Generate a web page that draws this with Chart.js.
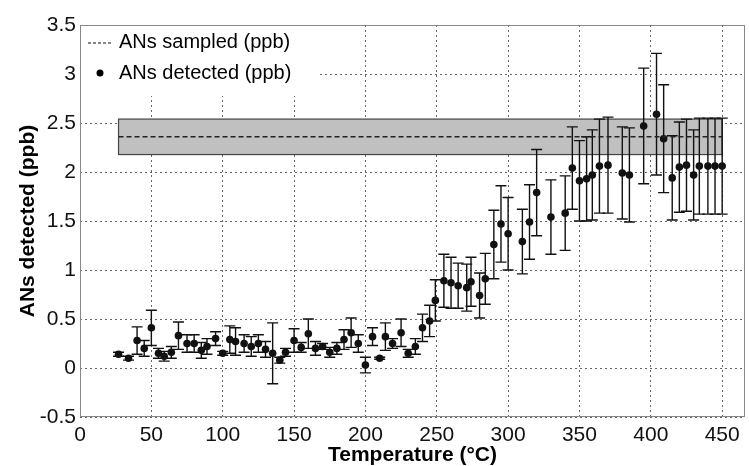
<!DOCTYPE html>
<html>
<head>
<meta charset="utf-8">
<script src="https://cdn.jsdelivr.net/npm/chart.js@4/dist/chart.umd.min.js"></script>
<style>
  body { margin: 0; background: #fff; }
  canvas { display: block; }
</style>
</head>
<body>
<canvas id="myChart" width="749" height="466"></canvas>
<script>
// temperature (°C), detected ANs (ppb), error bar half-length (ppb)
let temps = [27, 34, 40, 45, 50, 55, 59, 64, 69, 75, 80, 85, 89, 95, 100, 105, 109, 115, 120, 125,
    130, 135, 140, 144, 150, 155, 160, 165, 170, 175, 180, 185, 190, 195, 200, 205, 210, 214, 219, 225,
    230, 235, 240, 245, 249, 255, 260, 265, 271, 274, 280, 284, 290, 295, 300, 310, 315, 320, 330, 340,
    345, 350, 355, 359, 364, 370, 380, 385, 395, 404, 409, 415, 420, 425, 430, 434, 440, 445, 450]
let detected = [0.14, 0.10, 0.28, 0.20, 0.41, 0.15, 0.12, 0.16, 0.33, 0.25, 0.25, 0.18, 0.22, 0.30, 0.15, 0.29, 0.27, 0.25, 0.22, 0.25,
    0.19, 0.15, 0.08, 0.16, 0.28, 0.21, 0.35, 0.20, 0.22, 0.16, 0.20, 0.29, 0.36, 0.25, 0.03, 0.32, 0.10, 0.32, 0.25, 0.36,
    0.15, 0.22, 0.41, 0.48, 0.69, 0.89, 0.87, 0.84, 0.82, 0.88, 0.74, 0.91, 1.26, 1.47, 1.37, 1.29, 1.49, 1.79, 1.54, 1.58,
    2.04, 1.91, 1.93, 1.97, 2.06, 2.07, 1.99, 1.97, 2.47, 2.59, 2.34, 1.94, 2.05, 2.07, 1.97, 2.06, 2.06, 2.06, 2.06]
let errors = [0.02, 0.02, 0.14, 0.08, 0.18, 0.05, 0.05, 0.06, 0.14, 0.09, 0.09, 0.08, 0.08, 0.07, 0.02, 0.14, 0.14, 0.09, 0.10, 0.09,
    0.08, 0.31, 0.03, 0.04, 0.12, 0.05, 0.15, 0.07, 0.03, 0.05, 0.06, 0.10, 0.15, 0.09, 0.08, 0.09, 0.01, 0.14, 0.05, 0.14,
    0.04, 0.08, 0.14, 0.16, 0.21, 0.27, 0.26, 0.23, 0.24, 0.25, 0.23, 0.26, 0.35, 0.39, 0.37, 0.33, 0.38, 0.44, 0.38, 0.38,
    0.42, 0.41, 0.43, 0.46, 0.48, 0.49, 0.47, 0.48, 0.59, 0.62, 0.55, 0.43, 0.46, 0.47, 0.46, 0.49, 0.49, 0.49, 0.49]

// sampled ANs: mean and band (ppb), over the temperature range
let sampledRange = [27, 450]
let sampledMean = 2.36
let sampledLow = 2.178
let sampledHigh = 2.54

let xTicks = [0, 50, 100, 150, 200, 250, 300, 350, 400, 450]

let points = []
for (let i = 0; i < temps.length; i++) {
    points.push({ x: temps[i], y: detected[i] })
}

const FONT = '"Liberation Sans", Arial, sans-serif'

const bandAndBars = {
    id: 'bandAndBars',
    beforeDatasetsDraw(chart) {
        const ctx = chart.ctx
        const xs = chart.scales.x
        const ys = chart.scales.y
        const area = chart.chartArea

        // legend backdrop
        ctx.save()
        ctx.fillStyle = '#fff'
        ctx.fillRect(area.left + 1, area.top + 1, 236, 70)

        // sampled band
        const x0 = xs.getPixelForValue(sampledRange[0])
        const x1 = xs.getPixelForValue(sampledRange[1])
        const yTop = ys.getPixelForValue(sampledHigh)
        const yBot = ys.getPixelForValue(sampledLow)
        ctx.fillStyle = '#c0c0c0'
        ctx.fillRect(x0, yTop, x1 - x0, yBot - yTop)
        ctx.strokeStyle = '#444'
        ctx.lineWidth = 1.2
        ctx.strokeRect(x0, yTop, x1 - x0, yBot - yTop)

        // error bars
        ctx.strokeStyle = '#111'
        ctx.lineWidth = 1.4
        for (let i = 0; i < temps.length; i++) {
            const px = xs.getPixelForValue(temps[i])
            const pHi = ys.getPixelForValue(detected[i] + errors[i])
            const pLo = ys.getPixelForValue(detected[i] - errors[i])
            ctx.beginPath()
            ctx.moveTo(px, pHi); ctx.lineTo(px, pLo)
            ctx.moveTo(px - 5.5, pHi); ctx.lineTo(px + 5.5, pHi)
            ctx.moveTo(px - 5.5, pLo); ctx.lineTo(px + 5.5, pLo)
            ctx.stroke()
        }
        ctx.restore()
    },
    afterDraw(chart) {
        const ctx = chart.ctx
        const area = chart.chartArea
        ctx.save()
        // plot box
        ctx.strokeStyle = '#888'
        ctx.lineWidth = 1
        ctx.strokeRect(area.left + 0.5, area.top + 0.5, area.right - area.left - 1, area.bottom - area.top - 1)

        // legend
        ctx.font = '20px ' + FONT
        ctx.fillStyle = '#000'
        ctx.textBaseline = 'middle'
        ctx.strokeStyle = '#111'
        ctx.lineWidth = 1.2
        ctx.setLineDash([3, 2])
        ctx.beginPath()
        ctx.moveTo(area.left + 8, area.top + 18)
        ctx.lineTo(area.left + 33, area.top + 18)
        ctx.stroke()
        ctx.setLineDash([])
        ctx.fillText('ANs sampled (ppb)', area.left + 39, area.top + 17)
        ctx.beginPath()
        ctx.arc(area.left + 20, area.top + 48, 3.5, 0, Math.PI * 2)
        ctx.fill()
        ctx.fillText('ANs detected (ppb)', area.left + 39, area.top + 48)
        ctx.restore()
    }
}

const data = {
    datasets: [
        {
            label: 'ANs sampled (ppb)',
            type: 'line',
            data: [{ x: sampledRange[0], y: sampledMean }, { x: sampledRange[1], y: sampledMean }],
            borderColor: '#222',
            borderWidth: 1.4,
            borderDash: [5, 3],
            pointRadius: 0,
            fill: false
        },
        {
            label: 'ANs detected (ppb)',
            type: 'scatter',
            data: points,
            backgroundColor: '#111',
            borderColor: '#111',
            pointRadius: 3.8,
            pointBorderWidth: 0
        }
    ]
}

const config = {
    type: 'scatter',
    data: data,
    options: {
        responsive: false,
        animation: false,
        layout: { padding: { top: 25, right: 4, left: 0, bottom: 0 } },
        plugins: {
            legend: { display: false },
            tooltip: { enabled: false }
        },
        scales: {
            x: {
                type: 'linear',
                min: 0,
                max: 466,
                afterBuildTicks: (scale) => {
                    scale.ticks = xTicks.map(v => ({ value: v }))
                },
                afterFit: (scale) => { scale.height = 49 },
                ticks: {
                    font: { family: FONT, size: 21, lineHeight: 1 },
                    color: '#111',
                    padding: 8,
                    maxRotation: 0
                },
                grid: { color: '#666', lineWidth: 1, drawTicks: false },
                border: { display: false, dash: [2, 3] },
                title: {
                    display: true,
                    text: 'Temperature (°C)',
                    font: { family: FONT, size: 21, weight: 'bold', lineHeight: 1 },
                    color: '#000',
                    padding: { top: 0, bottom: 0 }
                }
            },
            y: {
                min: -0.5,
                max: 3.5,
                afterFit: (scale) => { scale.width = 80 },
                ticks: {
                    stepSize: 0.5,
                    callback: (v) => String(Math.round(v * 10) / 10),
                    font: { family: FONT, size: 21 },
                    color: '#111',
                    padding: 4
                },
                grid: { color: '#666', lineWidth: 1, drawTicks: false },
                border: { display: false, dash: [2, 3] },
                title: {
                    display: true,
                    text: 'ANs detected (ppb)',
                    font: { family: FONT, size: 21, weight: 'bold', lineHeight: 1 },
                    color: '#000',
                    padding: { top: 18, bottom: 0 }
                }
            }
        }
    },
    plugins: [bandAndBars]
}

const myChart = new Chart(document.getElementById('myChart').getContext('2d'), config)
</script>
</body>
</html>
